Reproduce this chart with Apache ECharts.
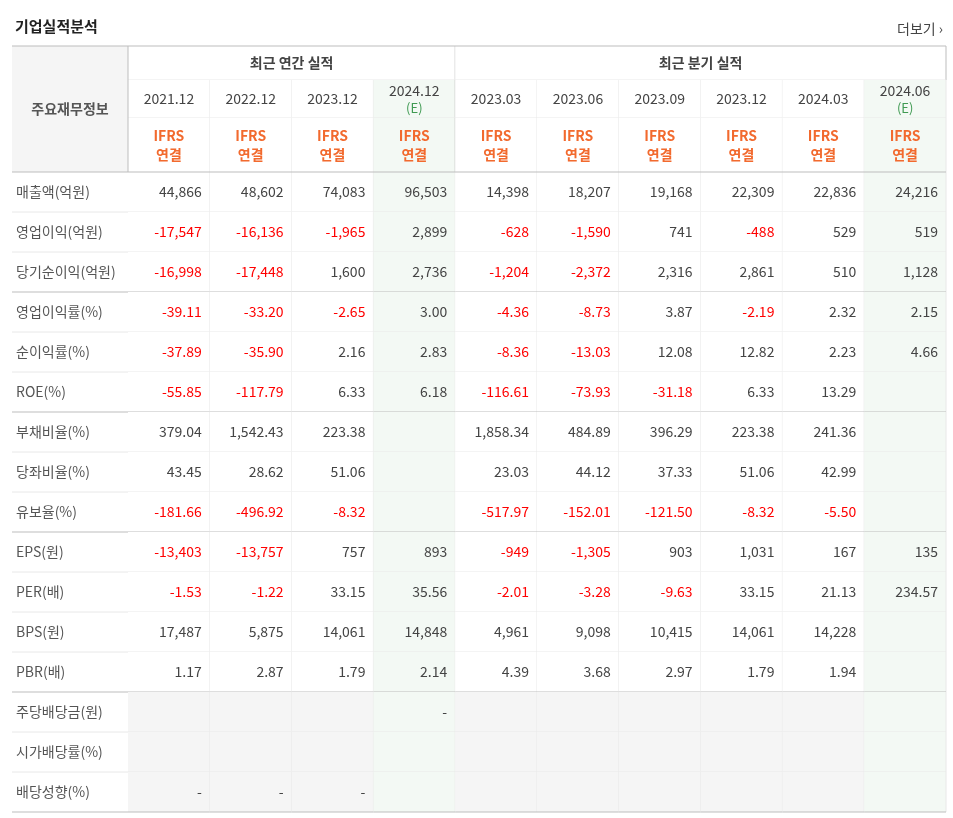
<!DOCTYPE html>
<html><head><meta charset="utf-8">
<script src="https://cdn.jsdelivr.net/npm/echarts@6/dist/echarts.min.js"></script>
<style>html,body{margin:0;background:#fff}#chart{width:953px;height:818px}</style>
</head><body><div id="chart"></div>
<script>
const colDates = ['2021.12','2022.12','2023.12','2024.12','2023.03','2023.06','2023.09','2023.12','2024.03','2024.06'];
const colEst = [false,false,false,true,false,false,false,false,false,true];
const groups = [['최근 연간 실적',0,3],['최근 분기 실적',4,9]];
const rowLabels = ['매출액(억원)','영업이익(억원)','당기순이익(억원)','영업이익률(%)','순이익률(%)','ROE(%)','부채비율(%)','당좌비율(%)','유보율(%)','EPS(원)','PER(배)','BPS(원)','PBR(배)','주당배당금(원)','시가배당률(%)','배당성향(%)'];
const groupEnds = [2,5,8,12,15];
const dividendRows = [13,14,15];

const sales     = ['44,866','48,602','74,083','96,503','14,398','18,207','19,168','22,309','22,836','24,216'];
const opIncome  = ['-17,547','-16,136','-1,965','2,899','-628','-1,590','741','-488','529','519'];
const netIncome = ['-16,998','-17,448','1,600','2,736','-1,204','-2,372','2,316','2,861','510','1,128'];
const opMargin  = ['-39.11','-33.20','-2.65','3.00','-4.36','-8.73','3.87','-2.19','2.32','2.15'];
const netMargin = ['-37.89','-35.90','2.16','2.83','-8.36','-13.03','12.08','12.82','2.23','4.66'];
const roe       = ['-55.85','-117.79','6.33','6.18','-116.61','-73.93','-31.18','6.33','13.29',''];
const debtRatio = ['379.04','1,542.43','223.38','','1,858.34','484.89','396.29','223.38','241.36',''];
const quickRatio= ['43.45','28.62','51.06','','23.03','44.12','37.33','51.06','42.99',''];
const reserve   = ['-181.66','-496.92','-8.32','','-517.97','-152.01','-121.50','-8.32','-5.50',''];
const eps       = ['-13,403','-13,757','757','893','-949','-1,305','903','1,031','167','135'];
const per       = ['-1.53','-1.22','33.15','35.56','-2.01','-3.28','-9.63','33.15','21.13','234.57'];
const bps       = ['17,487','5,875','14,061','14,848','4,961','9,098','10,415','14,061','14,228',''];
const pbr       = ['1.17','2.87','1.79','2.14','4.39','3.68','2.97','1.79','1.94',''];
const dps       = ['','','','-','','','','','',''];
const divYield  = ['','','','','','','','','',''];
const payout    = ['-','-','-','','','','','','',''];
const rows = [sales,opIncome,netIncome,opMargin,netMargin,roe,debtRatio,quickRatio,reserve,eps,per,bps,pbr,dps,divYield,payout];

const FONT = '"Noto Sans CJK KR", "Noto Sans", sans-serif';
const DARK = '#bdbdbd', LIGHT = '#e8e8e8', GREEN = '#f3f9f4', GREY = '#f5f5f5';
const LABEL_W = 116;

const bodyData = [];
rows.forEach((r, ri) => r.forEach((v, ci) => bodyData.push([ci, ri, v])));

function renderBody(params, api) {
  const ci = api.value(0), ri = api.value(1);
  const v = bodyData[params.dataIndex][2];
  const c = api.coord([ci, ri]), s = api.size([1, 1]);
  const x = c[0] - s[0] / 2, y = c[1] - s[1] / 2, w = s[0], h = s[1];
  let fill = '#fff';
  if (colEst[ci]) fill = GREEN; else if (dividendRows.includes(ri)) fill = GREY;
  const bottomDark = groupEnds.includes(ri);
  const ch = [
    {type: 'rect', shape: {x, y, width: w, height: h}, style: {fill}},
    {type: 'line', shape: {x1: x + w, y1: y, x2: x + w, y2: y + h}, style: {stroke: LIGHT, lineWidth: 1}},
    {type: 'line', shape: {x1: x, y1: y + h, x2: x + w, y2: y + h}, style: {stroke: bottomDark ? DARK : LIGHT, lineWidth: 1}},
    {type: 'text', x: x + w - 8, y: y + h / 2, style: {text: v, fill: v.startsWith('-') && v.length > 1 ? '#ff0000' : '#444', font: '14px ' + FONT, align: 'right', verticalAlign: 'middle'}}
  ];
  if (ci === 0) {
    ch.unshift({type: 'line', shape: {x1: x - LABEL_W, y1: y + h, x2: x, y2: y + h}, style: {stroke: bottomDark ? DARK : LIGHT, lineWidth: 1}});
  }
  return {type: 'group', children: ch};
}

// header rows: y edges in header grid units
const hEdges = [0, 34, 72, 126];
const headData = [];
groups.forEach(g => headData.push({kind: 'group', text: g[0], c0: g[1], c1: g[2]}));
colDates.forEach((d, i) => headData.push({kind: 'date', text: d, c0: i, c1: i}));
colDates.forEach((d, i) => headData.push({kind: 'ifrs', text: 'IFRS\n연결', c0: i, c1: i}));
headData.push({kind: 'label', text: '주요재무정보', c0: 0, c1: 0});

function renderHead(params, api) {
  const it = headData[params.dataIndex];
  const s = api.size([1, 0]);
  const left = api.coord([it.c0, 0])[0] - s[0] / 2;
  const right = api.coord([it.c1, 0])[0] + s[0] / 2;
  const yy = e => api.coord([0, e])[1];
  const ch = [];
  if (it.kind === 'label') {
    const x0 = left - LABEL_W;
    ch.push({type: 'rect', shape: {x: x0, y: yy(0), width: LABEL_W, height: yy(126) - yy(0)}, style: {fill: GREY}});
    ch.push({type: 'line', shape: {x1: x0, y1: yy(0), x2: 946, y2: yy(0)}, style: {stroke: DARK}});
    ch.push({type: 'line', shape: {x1: x0, y1: yy(126), x2: 946, y2: yy(126)}, style: {stroke: DARK}});
    ch.push({type: 'line', shape: {x1: left, y1: yy(0), x2: left, y2: yy(126)}, style: {stroke: DARK}});
    ch.push({type: 'text', x: x0 + LABEL_W / 2, y: (yy(0) + yy(126)) / 2, style: {text: it.text, fill: '#555', font: 'bold 14px ' + FONT, align: 'center', verticalAlign: 'middle'}});
    return {type: 'group', children: ch};
  }
  const r = it.kind === 'group' ? 0 : it.kind === 'date' ? 1 : 2;
  const y0 = yy(hEdges[r]), y1 = yy(hEdges[r + 1]);
  const est = it.kind !== 'group' && colEst[it.c0];
  ch.push({type: 'rect', shape: {x: left, y: y0, width: right - left, height: y1 - y0}, style: {fill: est ? GREEN : '#fff'}});
  ch.push({type: 'line', shape: {x1: right, y1: y0, x2: right, y2: y1}, style: {stroke: (it.kind === 'group' || it.c0 === 3) ? DARK : LIGHT}});
  if (r < 2) ch.push({type: 'line', shape: {x1: left, y1: y1, x2: right, y2: y1}, style: {stroke: LIGHT}});
  const cx = (left + right) / 2, cy = (y0 + y1) / 2;
  if (it.kind === 'group') {
    ch.push({type: 'text', x: cx, y: cy, style: {text: it.text, fill: '#444', font: 'bold 14px ' + FONT, align: 'center', verticalAlign: 'middle'}});
  } else if (it.kind === 'date') {
    if (est) {
      ch.push({type: 'text', x: cx, y: cy - 8, style: {text: it.text, fill: '#444', font: '14px ' + FONT, align: 'center', verticalAlign: 'middle'}});
      ch.push({type: 'text', x: cx, y: cy + 9, style: {text: '(E)', fill: '#3f9a52', font: '13px ' + FONT, align: 'center', verticalAlign: 'middle'}});
    } else {
      ch.push({type: 'text', x: cx, y: cy, style: {text: it.text, fill: '#444', font: '14px ' + FONT, align: 'center', verticalAlign: 'middle'}});
    }
  } else {
    ch.push({type: 'text', x: cx, y: cy, style: {text: it.text, fill: '#f26a2e', font: 'bold 14px ' + FONT, align: 'center', verticalAlign: 'middle', lineHeight: 19}});
  }
  return {type: 'group', children: ch};
}

const chart = echarts.init(document.getElementById('chart'));
chart.setOption({
  animation: false,
  title: {text: '기업실적분석', left: 10, top: 14, textStyle: {fontFamily: FONT, fontSize: 15, fontWeight: 'bold', color: '#222'}},
  graphic: [{type: 'text', right: 10, top: 22, style: {text: '더보기 ›', fill: '#444', font: '14px ' + FONT}}],
  grid: [
    {left: 128, right: 7, top: 172, height: 640},
    {left: 128, right: 7, top: 46, height: 126}
  ],
  xAxis: [
    {type: 'category', gridIndex: 0, data: colDates, show: false},
    {type: 'category', gridIndex: 1, data: colDates, show: false}
  ],
  yAxis: [
    {type: 'category', gridIndex: 0, data: rowLabels, inverse: true, axisLine: {show: false}, axisTick: {show: false},
      axisLabel: {align: 'left', margin: 112, color: '#555', fontSize: 14, fontFamily: FONT}},
    {type: 'value', gridIndex: 1, min: 0, max: 126, inverse: true, show: false}
  ],
  series: [
    {type: 'custom', xAxisIndex: 0, yAxisIndex: 0, data: bodyData.map(d => [d[0], d[1]]), renderItem: renderBody, silent: true, z: 1},
    {type: 'custom', xAxisIndex: 1, yAxisIndex: 1, data: headData.map(() => [0, 0]), renderItem: renderHead, silent: true, clip: false, z: 1}
  ]
});
</script></body></html>
